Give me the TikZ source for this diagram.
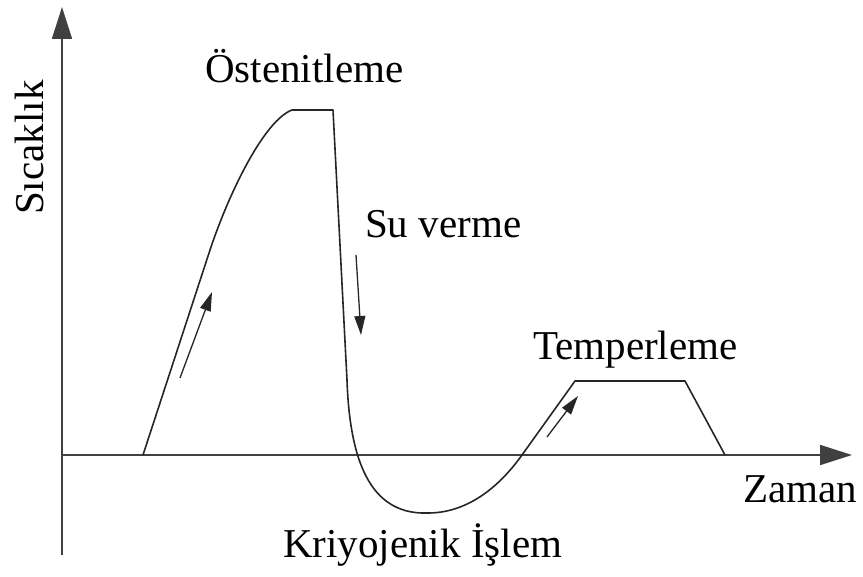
\documentclass[tikz,border=0pt]{standalone}
\usepackage{fontspec}
\setmainfont{Liberation Serif}
\usetikzlibrary{arrows.meta}

\begin{document}
\begin{tikzpicture}[x=1pt,y=-1pt,
  axis/.style={line width=1.7pt,black!75,-{Triangle[length=32pt,width=20pt]}},
  curve/.style={line width=1.6pt,black!85,line join=round},
  hint/.style={line width=1.3pt,black!85,-{Triangle[length=19pt,width=11pt]}},
  lbl/.style={font=\fontsize{41}{45}\selectfont,anchor=base west,inner sep=0pt}]
  \useasboundingbox (0,0) rectangle (863,577);

  % axes
  \coordinate (O) at (62,455);
  \coordinate (ytop) at (62,7);
  \coordinate (ybot) at (62,555);
  \coordinate (xend) at (852,455);
  \draw[axis] (ybot) -- (ytop);
  \draw[axis] (O) -- (xend);

  % temperature profile
  \draw[curve] (143,455) -- (210,250) .. controls (230,190) and (265,120) .. (292,110)
    -- (333,110) -- (347,380) .. controls (350,470) and (375,515) .. (428,513)
    .. controls (465,513) and (497,490) .. (522,455) -- (575,381) -- (685,381) -- (725,455);

  % direction hints
  \coordinate (h1a) at (180,378); \coordinate (h1b) at (212,292);
  \coordinate (h2a) at (356,255); \coordinate (h2b) at (361,335);
  \coordinate (h3a) at (547,437); \coordinate (h3b) at (578,396);
  \draw[hint] (h1a) -- (h1b);
  \draw[hint] (h2a) -- (h2b);
  \draw[hint] (h3a) -- (h3b);

  % labels
  \node[lbl] (osten) at (205,83) {Östenitleme};
  \node[lbl] (suver) at (365,238) {Su verme};
  \node[lbl] (temper) at (533,360) {Temperleme};
  \node[lbl] (kriyo) at (283,558) {Kriyojenik İşlem};
  \node[lbl] (zaman) at (743,503) {Zaman};
  \node[lbl,rotate=90] (sicak) at (43,215) {Sıcaklık};
\end{tikzpicture}
\end{document}
